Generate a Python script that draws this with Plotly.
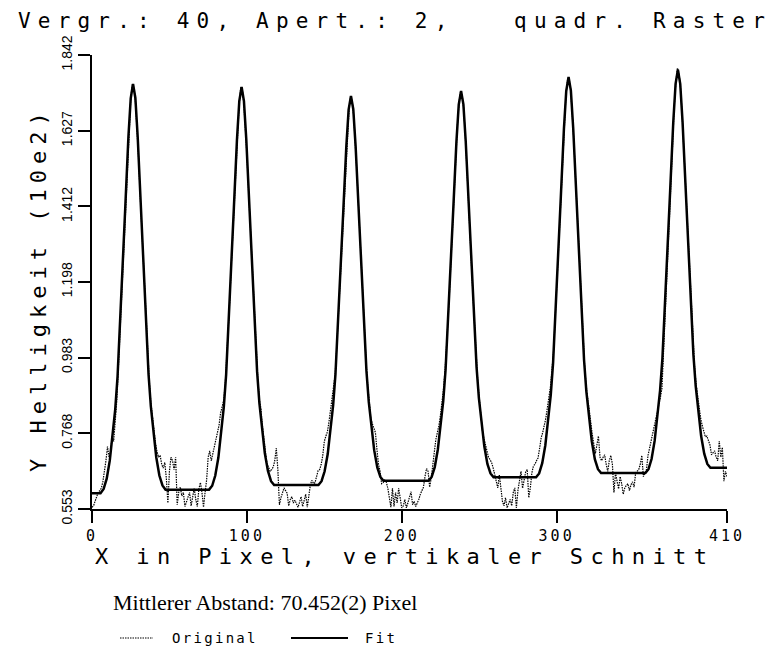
import plotly.graph_objects as go

# ---------------- data ----------------
x_ticks = [0, 100, 200, 300, 410]
y_ticks = [0.553, 0.768, 0.983, 1.198, 1.412, 1.627, 1.842]
y_tick_labels = ["0.553", "0.768", "0.983", "1.198", "1.412", "1.627", "1.842"]

# Original profile, one value per pixel column x = 0..410
original_x = list(range(411))
original_y = [
    0.558, 0.562, 0.575, 0.590, 0.600, 0.605, 0.612, 0.630, 0.655, 0.690,
    0.730, 0.700, 0.715, 0.760, 0.745, 0.800, 0.860, 0.950, 1.050, 1.150,
    1.245, 1.350, 1.455, 1.560, 1.650, 1.715, 1.758, 1.750, 1.712, 1.640,
    1.555, 1.455, 1.360, 1.262, 1.165, 1.080, 0.985, 0.915, 0.855, 0.810,
    0.775, 0.740, 0.715, 0.700, 0.705, 0.680, 0.669, 0.685, 0.640, 0.570,
    0.660, 0.700, 0.690, 0.665, 0.700, 0.565, 0.600, 0.615, 0.590, 0.600,
    0.560, 0.575, 0.588, 0.600, 0.562, 0.590, 0.612, 0.580, 0.560, 0.610,
    0.628, 0.600, 0.558, 0.600, 0.635, 0.700, 0.718, 0.690, 0.712, 0.728,
    0.750, 0.768, 0.790, 0.825, 0.845, 0.860, 0.905, 0.975, 1.060, 1.150,
    1.250, 1.345, 1.450, 1.540, 1.630, 1.700, 1.748, 1.745, 1.708, 1.640,
    1.560, 1.465, 1.370, 1.270, 1.175, 1.090, 1.000, 0.930, 0.865, 0.840,
    0.790, 0.750, 0.715, 0.680, 0.672, 0.660, 0.665, 0.672, 0.690, 0.726,
    0.665, 0.565, 0.585, 0.600, 0.613, 0.605, 0.598, 0.562, 0.580, 0.588,
    0.570, 0.578, 0.565, 0.558, 0.572, 0.588, 0.560, 0.578, 0.595, 0.558,
    0.600, 0.622, 0.635, 0.625, 0.628, 0.650, 0.662, 0.665, 0.680, 0.705,
    0.745, 0.760, 0.772, 0.800, 0.835, 0.860, 0.900, 0.935, 1.010, 1.095,
    1.180, 1.275, 1.372, 1.468, 1.560, 1.635, 1.690, 1.722, 1.712, 1.668,
    1.598, 1.512, 1.420, 1.322, 1.225, 1.135, 1.050, 0.968, 0.905, 0.860,
    0.812, 0.795, 0.785, 0.770, 0.720, 0.680, 0.660, 0.625, 0.628, 0.635,
    0.630, 0.612, 0.585, 0.558, 0.612, 0.560, 0.600, 0.570, 0.612, 0.575,
    0.556, 0.562, 0.580, 0.556, 0.570, 0.588, 0.602, 0.565, 0.575, 0.560,
    0.568, 0.580, 0.595, 0.605, 0.615, 0.645, 0.668, 0.660, 0.615, 0.640,
    0.680, 0.705, 0.750, 0.770, 0.790, 0.820, 0.855, 0.895, 0.950, 1.010,
    1.098, 1.185, 1.280, 1.380, 1.476, 1.570, 1.648, 1.708, 1.738, 1.728,
    1.690, 1.618, 1.535, 1.442, 1.345, 1.248, 1.158, 1.070, 0.988, 0.920,
    0.870, 0.815, 0.778, 0.755, 0.738, 0.720, 0.700, 0.693, 0.685, 0.670,
    0.651, 0.630, 0.613, 0.650, 0.612, 0.575, 0.562, 0.585, 0.556, 0.570,
    0.580, 0.562, 0.600, 0.613, 0.556, 0.605, 0.640, 0.660, 0.612, 0.640,
    0.658, 0.665, 0.585, 0.612, 0.655, 0.675, 0.680, 0.690, 0.698, 0.725,
    0.755, 0.770, 0.786, 0.810, 0.840, 0.870, 0.900, 0.950, 1.000, 1.088,
    1.178, 1.270, 1.372, 1.472, 1.568, 1.655, 1.728, 1.770, 1.775, 1.748,
    1.688, 1.608, 1.512, 1.415, 1.315, 1.218, 1.128, 1.040, 0.965, 0.905,
    0.865, 0.840, 0.800, 0.765, 0.735, 0.710, 0.735, 0.760, 0.700, 0.690,
    0.700, 0.707, 0.680, 0.660, 0.690, 0.705, 0.680, 0.600, 0.655, 0.630,
    0.610, 0.645, 0.625, 0.595, 0.613, 0.620, 0.625, 0.605, 0.622, 0.630,
    0.615, 0.655, 0.662, 0.665, 0.680, 0.705, 0.645, 0.655, 0.665, 0.705,
    0.725, 0.745, 0.765, 0.783, 0.805, 0.825, 0.850, 0.870, 0.895, 1.000,
    1.120, 1.215, 1.318, 1.422, 1.522, 1.620, 1.700, 1.765, 1.805, 1.790,
    1.750, 1.675, 1.588, 1.492, 1.392, 1.290, 1.198, 1.110, 1.025, 0.960,
    0.910, 0.875, 0.845, 0.810, 0.790, 0.775, 0.758, 0.760, 0.748, 0.735,
    0.707, 0.712, 0.718, 0.700, 0.690, 0.746, 0.700, 0.728, 0.632, 0.660,
    0.645,
]

# Fit curve, read at points along each peak
fit_x = [
    0, 5.5, 7.5, 9.5, 11.5, 13.5, 15, 16.5, 18, 19.5, 21.5, 23.5, 25, 26.5,
    28, 29.5, 31.5, 33.5, 35, 36.5, 38, 39.5, 41.5, 43.5, 45.5, 47.5,
    75.6, 77.6, 79.6, 81.6, 83.6, 85.1, 86.6, 88.1, 89.6, 91.6, 93.6, 95.1, 96.6,
    98.1, 99.6, 101.6, 103.6, 105.1, 106.6, 108.1, 109.6, 111.6, 113.6, 115.6, 117.6,
    146.2, 148.2, 150.2, 152.2, 154.2, 155.7, 157.2, 158.7, 160.2, 162.2, 164.2, 165.7, 167.2,
    168.7, 170.2, 172.2, 174.2, 175.7, 177.2, 178.7, 180.2, 182.2, 184.2, 186.2, 188.2,
    217.3, 219.3, 221.3, 223.3, 225.3, 226.8, 228.3, 229.8, 231.3, 233.3, 235.3, 236.8, 238.3,
    239.8, 241.3, 243.3, 245.3, 246.8, 248.3, 249.8, 251.3, 253.3, 255.3, 257.3, 259.3,
    286.7, 288.7, 290.7, 292.7, 294.7, 296.2, 297.7, 299.2, 300.7, 302.7, 304.7, 306.2, 307.7,
    309.2, 310.7, 312.7, 314.7, 316.2, 317.7, 319.2, 320.7, 322.7, 324.7, 326.7, 328.7,
    357.3, 359.3, 361.3, 363.3, 365.3, 366.8, 368.3, 369.8, 371.3, 373.3, 375.3, 376.8, 378.3,
    379.8, 381.3, 383.3, 385.3, 386.8, 388.3, 389.8, 391.3, 393.3, 395.3, 397.3, 399.3, 410,
]
fit_y = [
    0.598, 0.598, 0.610, 0.639, 0.691, 0.772, 0.836, 0.929, 1.063, 1.202, 1.411, 1.609, 1.719, 1.760,
    1.720, 1.610, 1.414, 1.207, 1.069, 0.936, 0.844, 0.781, 0.700, 0.648, 0.620, 0.608,
    0.608, 0.619, 0.648, 0.699, 0.779, 0.842, 0.934, 1.065, 1.202, 1.408, 1.602, 1.711, 1.751,
    1.711, 1.604, 1.412, 1.209, 1.073, 0.943, 0.853, 0.791, 0.711, 0.661, 0.632, 0.621,
    0.621, 0.632, 0.660, 0.709, 0.787, 0.848, 0.936, 1.063, 1.196, 1.395, 1.582, 1.687, 1.726,
    1.688, 1.584, 1.398, 1.201, 1.070, 0.945, 0.857, 0.797, 0.720, 0.671, 0.644, 0.633,
    0.633, 0.644, 0.672, 0.722, 0.799, 0.860, 0.949, 1.076, 1.209, 1.408, 1.596, 1.701, 1.740,
    1.702, 1.597, 1.411, 1.213, 1.082, 0.956, 0.868, 0.808, 0.731, 0.681, 0.654, 0.643,
    0.643, 0.654, 0.683, 0.734, 0.814, 0.876, 0.967, 1.098, 1.234, 1.439, 1.632, 1.740, 1.780,
    1.741, 1.634, 1.443, 1.240, 1.105, 0.976, 0.886, 0.824, 0.745, 0.694, 0.666, 0.655,
    0.655, 0.666, 0.695, 0.747, 0.827, 0.890, 0.981, 1.113, 1.250, 1.457, 1.651, 1.760, 1.800,
    1.760, 1.653, 1.461, 1.258, 1.122, 0.992, 0.902, 0.840, 0.760, 0.710, 0.681, 0.670, 0.670,
]

title_text = "Vergr.: 40, Apert.: 2,   quadr. Raster"
x_title = "X in Pixel, vertikaler Schnitt"
y_title = "Y Helligkeit (10e2)"
note_text = "Mittlerer Abstand: 70.452(2) Pixel"
series_names = ["Original", "Fit"]

# ---------------- figure ----------------
W, H = 776, 666
L, R, T, B = 84, 57, 47, 165
pw, ph = W - L - R, H - T - B

def px(xp):
    return (xp - L) / pw

def py(yp):
    return (H - B - yp) / ph

MONO = "DejaVu Sans Mono"

def spaced(s, sp):
    return f'<span style="letter-spacing:{sp}px">{s}</span>'

fig = go.Figure()
fig.add_trace(go.Scatter(
    x=original_x, y=original_y, mode="lines", name=series_names[0],
    line=dict(color="black", width=1.2, dash="1.5px,1px"), showlegend=False,
))
fig.add_trace(go.Scatter(
    x=fit_x, y=fit_y, mode="lines", name=series_names[1],
    line=dict(color="black", width=2.5), showlegend=False,
))

fig.update_layout(
    width=W, height=H,
    margin=dict(l=L, r=R, t=T, b=B),
    paper_bgcolor="white", plot_bgcolor="white",
    title=dict(text=spaced(title_text, 7.2), font=dict(family=MONO, size=21, color="black"),
               x=387 / W, xanchor="center", y=1 - 13 / H, yanchor="middle",
               xref="container", yref="container"),
    xaxis=dict(range=[0, 410], tickvals=x_ticks,
               ticktext=[spaced(str(v), 3) for v in x_ticks],
               tickfont=dict(family=MONO, size=15, color="black"),
               ticks="outside", ticklen=12, tickwidth=1.5, tickcolor="black",
               showline=True, linecolor="black", linewidth=2,
               showgrid=False, zeroline=False),
    yaxis=dict(range=[0.553, 1.842], tickvals=y_ticks, ticktext=y_tick_labels,
               tickangle=-90,
               tickfont=dict(family="Liberation Sans", size=14, color="black"),
               ticks="outside", ticklen=12, tickwidth=1.5, tickcolor="black",
               showline=True, linecolor="black", linewidth=2,
               showgrid=False, zeroline=False),
)

ann = []
ann.append(dict(text=spaced(x_title, 7.4), x=px(396), y=py(548), xref="paper", yref="paper",
                xanchor="center", yanchor="middle", showarrow=False,
                font=dict(family=MONO, size=22, color="black")))
ann.append(dict(text=spaced(y_title, 6), x=px(30), y=py(281), xref="paper", yref="paper",
                xanchor="center", yanchor="middle", showarrow=False, textangle=-90,
                font=dict(family=MONO, size=22, color="black")))
ann.append(dict(text=note_text, x=px(103), y=py(594), xref="paper", yref="paper",
                xanchor="left", yanchor="middle", showarrow=False,
                font=dict(family="Liberation Serif", size=22, color="black")))
ann.append(dict(text=spaced(series_names[0], 2.3), x=px(162), y=py(630), xref="paper", yref="paper",
                xanchor="left", yanchor="middle", showarrow=False,
                font=dict(family=MONO, size=14, color="black")))
ann.append(dict(text=spaced(series_names[1], 2.3), x=px(355), y=py(630), xref="paper", yref="paper",
                xanchor="left", yanchor="middle", showarrow=False,
                font=dict(family=MONO, size=14, color="black")))
fig.update_layout(annotations=ann)

fig.add_shape(type="line", xref="paper", yref="paper", x0=px(112), x1=px(145), y0=py(630), y1=py(630),
              line=dict(color="black", width=1.2, dash="1.5px,1px"))
fig.add_shape(type="line", xref="paper", yref="paper", x0=px(283), x1=px(340), y0=py(630), y1=py(630),
              line=dict(color="black", width=2))

fig.write_html("out.html")
